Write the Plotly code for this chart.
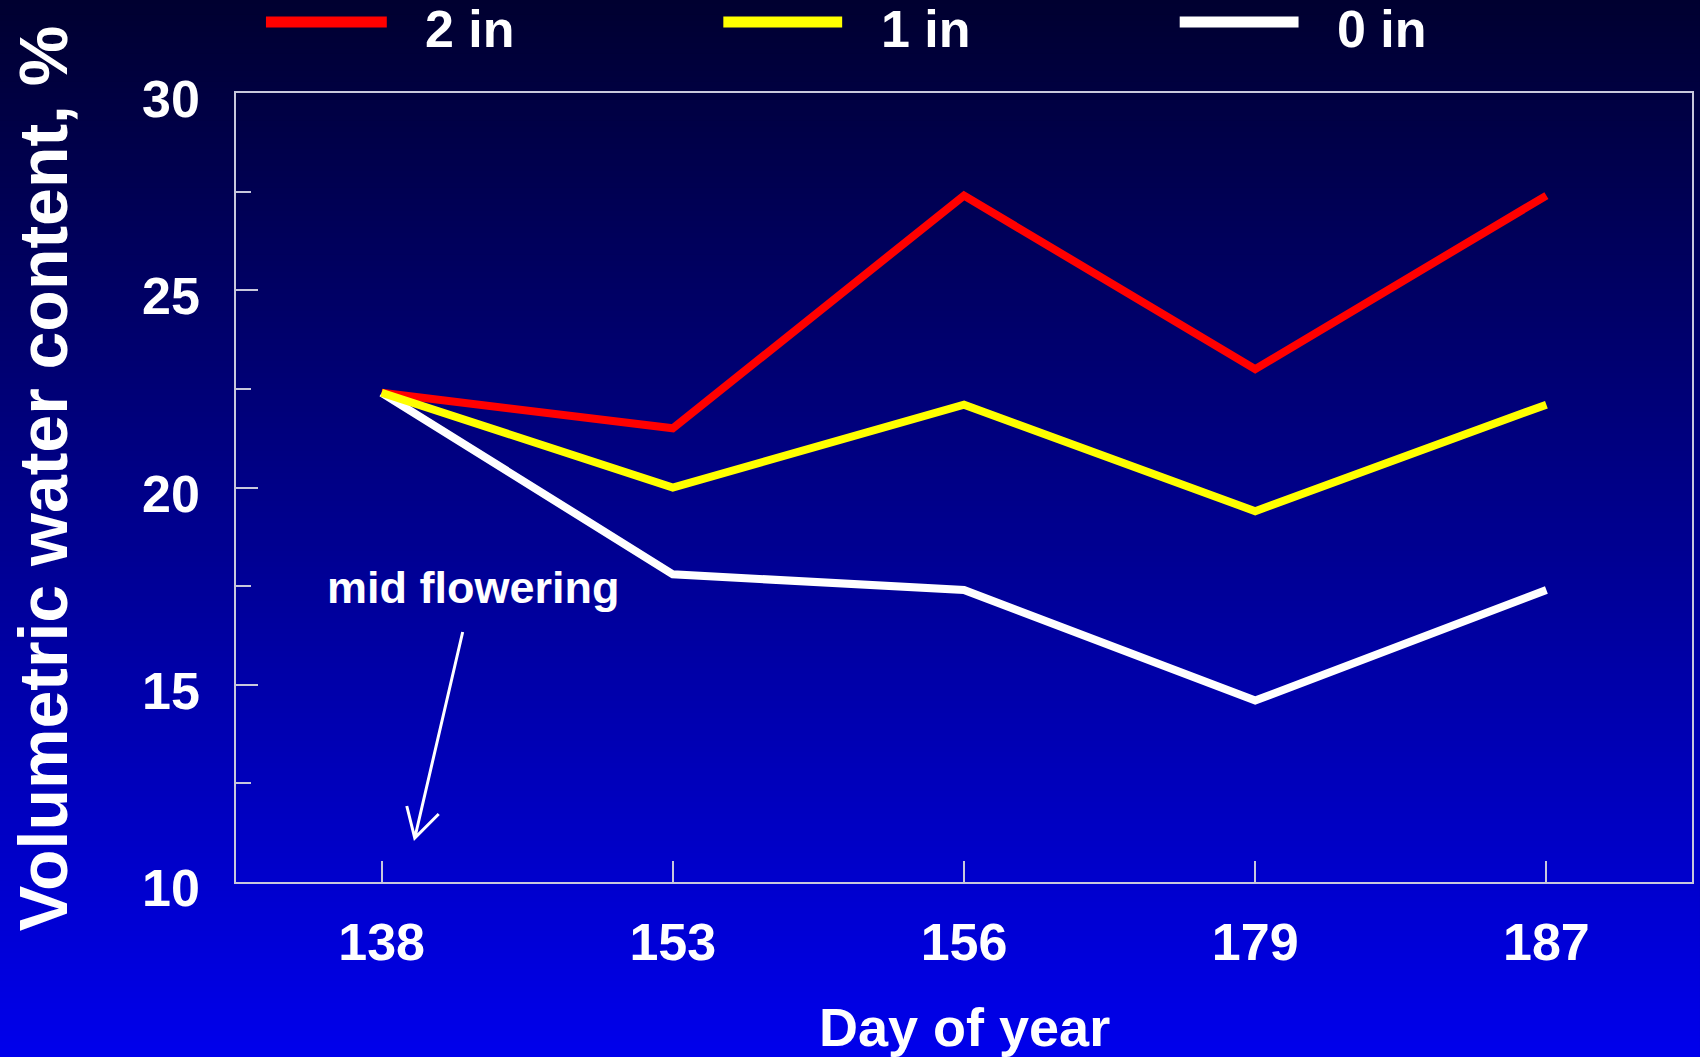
import plotly.graph_objects as go

# ---- data ----
days = ["138", "153", "156", "179", "187"]
vwc_2in = [22.4, 21.5, 27.4, 23.0, 27.4]
vwc_1in = [22.4, 20.0, 22.1, 19.4, 22.1]
vwc_0in = [22.4, 17.8, 17.4, 14.6, 17.4]
series_names = ["2 in", "1 in", "0 in"]
series_colors = ["#ff0000", "#ffff00", "#ffffff"]
y_ticks = [10, 15, 20, 25, 30]

W, H = 1700, 1057
ML, MR, MT, MB = 236, 6, 93, 175
PW, PH = W - ML - MR, H - MT - MB

def px(xp):
    return (xp - ML) / PW

def py(yp):
    return (H - MB - yp) / PH

FONT = "Liberation Sans, Arial, sans-serif"

fig = go.Figure()
series = [vwc_0in, vwc_2in, vwc_1in]
order = [2, 0, 1]
for vals, idx in zip(series, order):
    fig.add_trace(go.Scatter(
        x=days, y=vals, mode="lines", name=series_names[idx],
        line=dict(color=series_colors[idx], width=8),
        showlegend=False,
    ))

shapes = []
# gradient background
N = 190
top = (0, 0, 48)
bot = (0, 0, 236)
y0p, y1p = py(H + 2), py(-2)
for i in range(N):
    t = i / (N - 1)
    c = tuple(round(top[k] + (bot[k] - top[k]) * t) for k in range(3))
    ya = y1p - (y1p - y0p) * i / N
    yb = y1p - (y1p - y0p) * (i + 1) / N
    shapes.append(dict(type="rect", xref="paper", yref="paper",
                       x0=px(-2), x1=px(W + 2), y0=yb - 0.001, y1=ya,
                       fillcolor="rgb(%d,%d,%d)" % c, line=dict(width=0),
                       layer="below"))

# manual legend
leg_x = [(266, 387, 423), (724, 843, 880), (1181, 1300, 1337)]
annotations = []
for (xa, xb, xt), name, col in zip(leg_x, series_names, series_colors):
    shapes.append(dict(type="line", xref="paper", yref="paper",
                       x0=px(xa), x1=px(xb), y0=py(22), y1=py(22),
                       line=dict(color=col, width=11)))
    annotations.append(dict(text=name, xref="paper", yref="paper",
                            x=px(xt), y=py(29), xanchor="left", yanchor="middle",
                            showarrow=False,
                            font=dict(family=FONT, size=52, color="white", weight="bold")))

# arrow (mid flowering)
tail = (463, 632)
tip = (415, 838)
b1 = (407, 806)
b2 = (439, 814)
path = "M %f,%f L %f,%f M %f,%f L %f,%f L %f,%f" % (
    px(tail[0]), py(tail[1]), px(tip[0]), py(tip[1]),
    px(b1[0]), py(b1[1]), px(tip[0]), py(tip[1]), px(b2[0]), py(b2[1]))
shapes.append(dict(type="path", xref="paper", yref="paper", path=path,
                   line=dict(color="white", width=3)))

annotations.append(dict(text="mid flowering", xref="paper", yref="paper",
                        x=px(474), y=py(587), xanchor="center", yanchor="middle",
                        showarrow=False,
                        font=dict(family=FONT, size=45, color="white", weight="bold")))
annotations.append(dict(text="Day of year", xref="paper", yref="paper",
                        x=px(965), y=py(1027), xanchor="center", yanchor="middle",
                        showarrow=False,
                        font=dict(family=FONT, size=54, color="white", weight="bold")))
annotations.append(dict(text="Volumetric water content, %", xref="paper", yref="paper",
                        x=px(43), y=py(478), xanchor="center", yanchor="middle",
                        textangle=-90, showarrow=False,
                        font=dict(family=FONT, size=68, color="white", weight="bold")))

axis_col = "#c8c8dc"
fig.update_layout(
    width=W, height=H,
    margin=dict(l=ML, r=MR, t=MT, b=MB, pad=0),
    paper_bgcolor="#000030",
    plot_bgcolor="rgba(0,0,0,0)",
    shapes=shapes,
    annotations=annotations,
    showlegend=False,
    xaxis=dict(
        type="category", range=[-0.5, 4.5],
        showline=True, mirror=True, linecolor=axis_col, linewidth=1.5,
        ticks="inside", ticklen=21, tickwidth=1.5, tickcolor=axis_col,
        showgrid=False, zeroline=False,
        tickfont=dict(family=FONT, size=52, color="white", weight="bold"),
        ticklabelstandoff=14,
    ),
    yaxis=dict(
        range=[10, 30], tickvals=y_ticks,
        showline=True, mirror=True, linecolor=axis_col, linewidth=1.5,
        ticks="inside", ticklen=22, tickwidth=1.5, tickcolor=axis_col,
        minor=dict(dtick=2.5, ticks="inside", ticklen=15, tickwidth=1.5,
                   tickcolor=axis_col, showgrid=False),
        showgrid=False, zeroline=False,
        tickfont=dict(family=FONT, size=52, color="white", weight="bold"),
        ticklabelstandoff=24,
        ticklabelshift=6,
    ),
)

fig.write_html(
    "out.html",
    config={"displayModeBar": False},
    post_script="document.body.style.margin='0';document.body.style.background='#000030';",
)
